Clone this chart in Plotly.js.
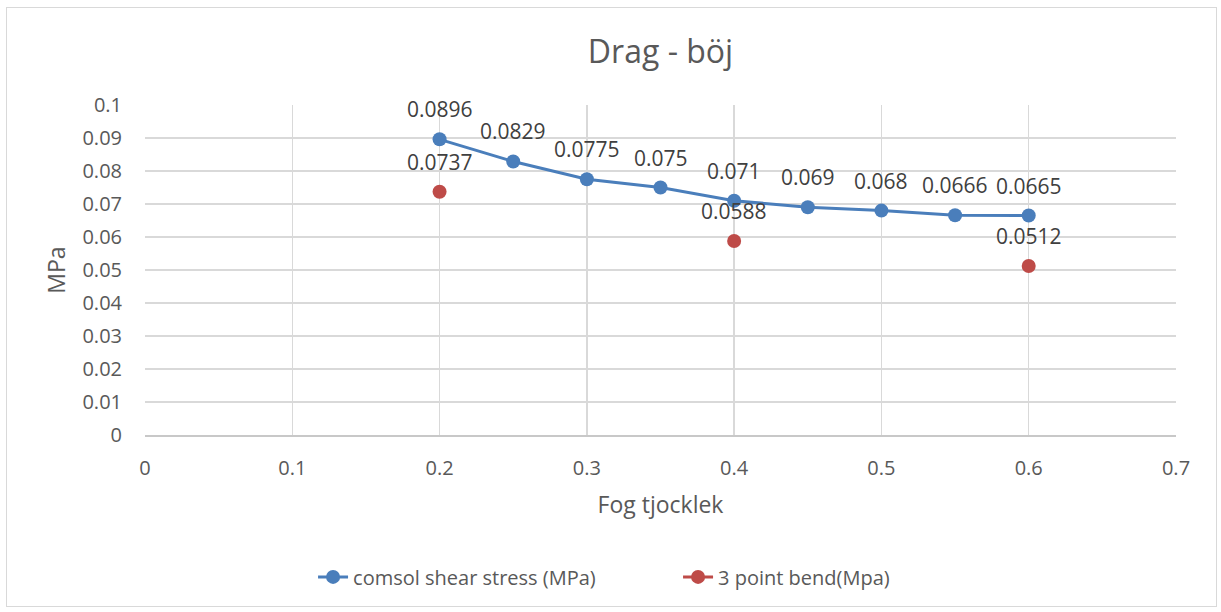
<!DOCTYPE html>
<html><head><meta charset="utf-8">
<script src="https://cdn.plot.ly/plotly-3.0.1.min.js"></script>
<style>
html,body{margin:0;padding:0;background:#fff;}
#frame{position:absolute;left:6px;top:7px;width:1211px;height:600px;border:1px solid #d9d9d9;box-sizing:border-box;}
#chart{position:absolute;left:0;top:0;width:1221px;height:612px;}
</style></head>
<body>
<div id="frame"></div>
<div id="chart"></div>
<script>
const xComsol = [0.2, 0.25, 0.3, 0.35, 0.4, 0.45, 0.5, 0.55, 0.6];
const yComsol = [0.0896, 0.0829, 0.0775, 0.075, 0.071, 0.069, 0.068, 0.0666, 0.0665];
const xBend = [0.2, 0.4, 0.6];
const yBend = [0.0737, 0.0588, 0.0512];
const nameComsol = 'comsol shear stress (MPa)';
const nameBend = '3 point bend(Mpa)';

const font = 'Open Sans, Noto Sans, sans-serif';
const txt = '#595959';
const blue = '#4a7ebb';
const red = '#be4b48';

const traces = [
  {x: xComsol, y: yComsol, name: nameComsol, type: 'scatter', mode: 'lines+markers',
   line: {color: blue, width: 3}, marker: {color: blue, size: 14}, cliponaxis: false},
  {x: xBend, y: yBend, name: nameBend, type: 'scatter', mode: 'markers',
   marker: {color: red, size: 14}, cliponaxis: false, showlegend: false},
  // legend entry for the red series (line + marker symbol as in the reference legend)
  {x: [null], y: [null], name: nameBend, type: 'scatter', mode: 'lines+markers',
   line: {color: red, width: 3}, marker: {color: red, size: 14}, showlegend: true}
];

const labelFont = {family: font, size: 21, color: '#404040'};
const annotations = [];
xComsol.forEach((x, i) => annotations.push({x: x, y: yComsol[i], text: String(yComsol[i]),
  showarrow: false, yanchor: 'bottom', xanchor: 'center', yshift: 14, font: labelFont}));
xBend.forEach((x, i) => annotations.push({x: x, y: yBend[i], text: String(yBend[i]),
  showarrow: false, yanchor: 'bottom', xanchor: 'center', yshift: 14, font: labelFont}));

const layout = {
  width: 1221, height: 612,
  paper_bgcolor: 'rgba(0,0,0,0)', plot_bgcolor: '#fff',
  margin: {l: 145, r: 45, t: 105, b: 177},
  font: {family: font, color: txt, size: 20},
  title: {text: 'Drag - böj', font: {family: font, size: 32, color: txt}, x: 0.5, xref: 'paper', y: 0.915, yanchor: 'middle'},
  xaxis: {range: [0, 0.7], dtick: 0.1, tick0: 0, showgrid: true, gridcolor: '#d9d9d9', gridwidth: 1.3,
          zeroline: false, showline: true, linecolor: '#c8c8c8', linewidth: 1.5,
          ticks: '', ticklabelstandoff: 14, tickfont: {family: font, size: 20, color: txt},
          title: {text: 'Fog tjocklek', font: {family: font, size: 23, color: txt}, standoff: 17}},
  yaxis: {range: [0, 0.1], dtick: 0.01, tick0: 0, showgrid: true, gridcolor: '#d9d9d9', gridwidth: 1.3,
          zeroline: false, showline: false, ticks: '', ticklabelstandoff: 22,
          tickfont: {family: font, size: 20, color: txt},
          title: {text: 'MPa', font: {family: font, size: 23, color: txt}, standoff: 10}},
  annotations: annotations,
  showlegend: true,
  legend: {orientation: 'h', x: 0.163, xanchor: 'left', y: -0.43, yanchor: 'middle',
           entrywidth: 320, entrywidthmode: 'pixels',
           font: {family: font, size: 20, color: txt}, traceorder: 'normal'}
};

Plotly.newPlot('chart', traces, layout, {displayModeBar: false, staticPlot: true});
</script>
</body></html>
